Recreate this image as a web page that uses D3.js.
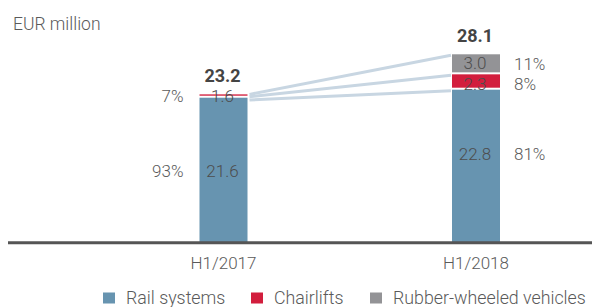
<!DOCTYPE html>
<html><head><meta charset="utf-8">
<script src="https://cdn.jsdelivr.net/npm/d3@7/dist/d3.min.js"></script>
<style>
html,body{margin:0;padding:0;background:#fff;}
svg{display:block;font-family:Roboto, "Open Sans", sans-serif;}
</style></head>
<body>
<svg id="chart" width="592" height="307"></svg>
<script>
// ---- data ----
const categories = ["H1/2017", "H1/2018"];
const seriesNames = ["Rail systems", "Chairlifts", "Rubber-wheeled vehicles"];
const railSystems = [21.6, 22.8];
const chairlifts = [0.5, 2.3];          // drawn heights
const rubberWheeled = [0, 3.0];
const railLabels = ["21.6", "22.8"];
const chairliftLabels = ["1.6", "2.3"];
const rubberLabels = ["", "3.0"];
const totalLabels = ["23.2", "28.1"];
const railPct = ["93%", "81%"];
const chairliftPct = ["7%", "8%"];
const rubberPct = ["", "11%"];
const unitLabel = "EUR million";
const colors = ["#6794b0", "#d21e3d", "#939396"];

// ---- layout ----
const svg = d3.select("#chart");
const x = d3.scalePoint().domain(categories).range([223.5, 476]);
const y = d3.scaleLinear().domain([0, 30]).range([242, 41.6]);
const barW = 48;
const textColor = "#5a5a5a";

const series = [railSystems, chairlifts, rubberWheeled];
const valueLabels = [railLabels, chairliftLabels, rubberLabels];
const stack = categories.map((c, i) => {
  let cum = 0;
  return series.map((s, k) => {
    const seg = {cat: c, i, k, y0: cum, y1: cum + s[i]};
    cum += s[i];
    return seg;
  });
});

svg.append("text").attr("x", 13).attr("y", 30)
  .attr("font-size", 17.5).attr("font-weight", 300).attr("fill", textColor)
  .text(unitLabel);

// connector lines
const connG = svg.append("g");
[0, 1, 2].forEach(k => {
  const startShift = [2.3, 2.3, 0][k];
  const a = stack[0][k], b = stack[1][k];
  connG.append("line")
    .attr("x1", x(categories[0]) + barW / 2 + 2)
    .attr("y1", y(a.y1) + startShift)
    .attr("x2", x(categories[1]) - barW / 2 - 1)
    .attr("y2", y(b.y1) + 1)
    .attr("stroke", "#c8d6e2").attr("stroke-width", 3);
});

// bars
const barG = svg.append("g");
stack.flat().forEach(seg => {
  if (seg.y1 - seg.y0 <= 0) return;
  const top = y(seg.y1);
  const bottom = seg.y0 > 0 ? y(seg.y0) - 2 : y(seg.y0);
  barG.append("rect")
    .attr("x", x(seg.cat) - barW / 2)
    .attr("y", top)
    .attr("width", barW)
    .attr("height", Math.max(0, bottom - top))
    .attr("fill", colors[seg.k]);
});

// axis
const axisG = svg.append("g").attr("transform", "translate(0,242.7)");
axisG.append("line").attr("x1", 8).attr("x2", 592).attr("stroke", "#555").attr("stroke-width", 3);
categories.forEach(c => {
  axisG.append("text").attr("x", x(c)).attr("y", 26.5)
    .attr("text-anchor", "middle").attr("font-size", 17).attr("font-weight", 300)
    .attr("fill", textColor).text(c);
});

// value labels
const railShift = [1.5, -12];
const innerShift = [0, 1.5, -1.2];
const pctShift = [0, 1.5, -0.5];
const lblG = svg.append("g").attr("font-size", 17).attr("font-weight", 300);
stack.forEach((segs, i) => {
  const cx = x(categories[i]);
  segs.forEach(seg => {
    const txt = valueLabels[seg.k][i];
    if (!txt) return;
    let cy = (y(seg.y0) + y(seg.y1)) / 2;
    if (seg.k === 0) cy += railShift[i];
    const iy = cy + (i === 1 ? innerShift[seg.k] : 0);
    lblG.append("text").attr("x", cx - 1).attr("y", iy).attr("dy", "0.36em")
      .attr("text-anchor", "middle").attr("fill", "#4d4d4d").text(txt);
    const pct = [railPct, chairliftPct, rubberPct][seg.k][i];
    if (pct) {
      const left = i === 0;
      lblG.append("text")
        .attr("x", left ? cx - barW / 2 - 16 : cx + barW / 2 + 14)
        .attr("y", cy + (left ? 0 : pctShift[seg.k])).attr("dy", "0.36em")
        .attr("text-anchor", left ? "end" : "start")
        .attr("fill", textColor).text(pct);
    }
  });
  svg.append("text").attr("x", cx - 1).attr("y", y(segs[2].y1) - 12)
    .attr("text-anchor", "middle").attr("font-size", 18).attr("font-weight", 700)
    .attr("fill", "#444").text(totalLabels[i]);
});

// legend
const legendX = [103, 251, 370];
const legG = svg.append("g");
seriesNames.forEach((n, k) => {
  legG.append("rect").attr("x", legendX[k]).attr("y", 292.5).attr("width", 12).attr("height", 11)
    .attr("fill", colors[k]);
  legG.append("text").attr("x", legendX[k] + 23).attr("y", 304)
    .attr("font-size", 17.8).attr("font-weight", 300).attr("fill", textColor).text(n);
});
</script>
</body></html>
